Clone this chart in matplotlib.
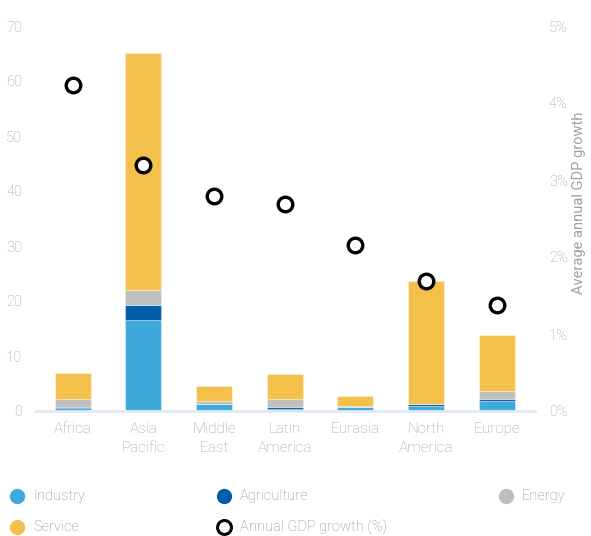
import numpy as np
import matplotlib.pyplot as plt
from matplotlib.ticker import FuncFormatter

plt.rcParams['font.family'] = ['Roboto', 'DejaVu Sans']
plt.rcParams['font.weight'] = 'light'

regions = ['Africa', 'Asia\nPacific', 'Middle\nEast', 'Latin\nAmerica',
           'Eurasia', 'North\nAmerica', 'Europe']
industry = [0.5, 16.5, 1.2, 0.4, 0.7, 0.9, 1.8]
agriculture = [0.3, 2.8, 0.05, 0.3, 0.05, 0.3, 0.3]
energy = [1.4, 2.7, 0.5, 1.5, 0.2, 0.1, 1.5]
service = [4.7, 43.1, 2.8, 4.5, 1.8, 22.3, 10.2]
gdp_growth = [4.23, 3.19, 2.79, 2.69, 2.16, 1.69, 1.38]

c_ind = '#3eaadc'
c_agr = '#005daa'
c_ene = '#c0bfbe'
c_ser = '#f4c04c'
grey = '#a0a0a0'

fig = plt.figure(figsize=(5.91, 5.36), dpi=100)
ax = fig.add_axes([36 / 591, 125 / 536, 499 / 591, 385 / 536])

x = np.arange(len(regions))
w = 0.51
bottom = np.zeros(len(regions))
for vals, col in [(industry, c_ind), (agriculture, c_agr),
                  (energy, c_ene), (service, c_ser)]:
    ax.bar(x, vals, w, bottom=bottom, color=col,
           edgecolor=(1, 1, 1, 0.35), linewidth=0.8)
    bottom += np.array(vals)

ax.set_xlim(-0.52, 6.54)
ax.set_ylim(0, 70)
ax.set_yticks(range(0, 71, 10))
ax.set_xticks(x)
ax.set_xticklabels(regions, linespacing=1.4)
for s in ['top', 'right', 'left']:
    ax.spines[s].set_visible(False)
ax.spines['bottom'].set_color('#e1e9f5')
ax.spines['bottom'].set_linewidth(2)
ax.tick_params(axis='both', length=0, labelcolor=grey, labelsize=10.5)
ax.tick_params(axis='x', pad=8, labelsize=11)
ax.tick_params(axis='y', pad=10)

ax2 = ax.twinx()
ax2.set_ylim(0, 5)
ax2.set_yticks(range(0, 6))
ax2.yaxis.set_major_formatter(FuncFormatter(lambda v, p: f'{v:.0f}%'))
ax2.plot(x, gdp_growth, 'o', ms=10.5, mfc='white', mec='black', mew=2.4)
for s in ax2.spines.values():
    s.set_visible(False)
ax2.tick_params(axis='y', length=0, labelcolor=grey, labelsize=10.5, pad=10)
ax2.set_ylabel('Average annual GDP growth', color=grey, fontsize=10.5)
ax2.yaxis.set_label_coords(1.075, 0.54)

# legend drawn in pixel coordinates below the axes
lg = fig.add_axes([0, 0, 1, 1], facecolor='none')
lg.set_xlim(0, 591)
lg.set_ylim(536, 0)
lg.axis('off')
items = [('Industry', c_ind, 17, 496), ('Agriculture', c_agr, 224, 496),
         ('Energy', c_ene, 506, 496), ('Service', c_ser, 17, 527)]
for label, col, px, py in items:
    lg.plot(px, py, 'o', ms=11, color=col, mec='none')
    lg.text(px + 16, py, label, color='#8c8c8c', fontsize=10.5,
            va='center', ha='left')
lg.plot(224, 527, 'o', ms=10, mfc='white', mec='black', mew=2.2)
lg.text(240, 527, 'Annual GDP growth (%)', color='#8c8c8c', fontsize=10.5,
        va='center', ha='left')

fig.savefig('out.png', dpi=100)
